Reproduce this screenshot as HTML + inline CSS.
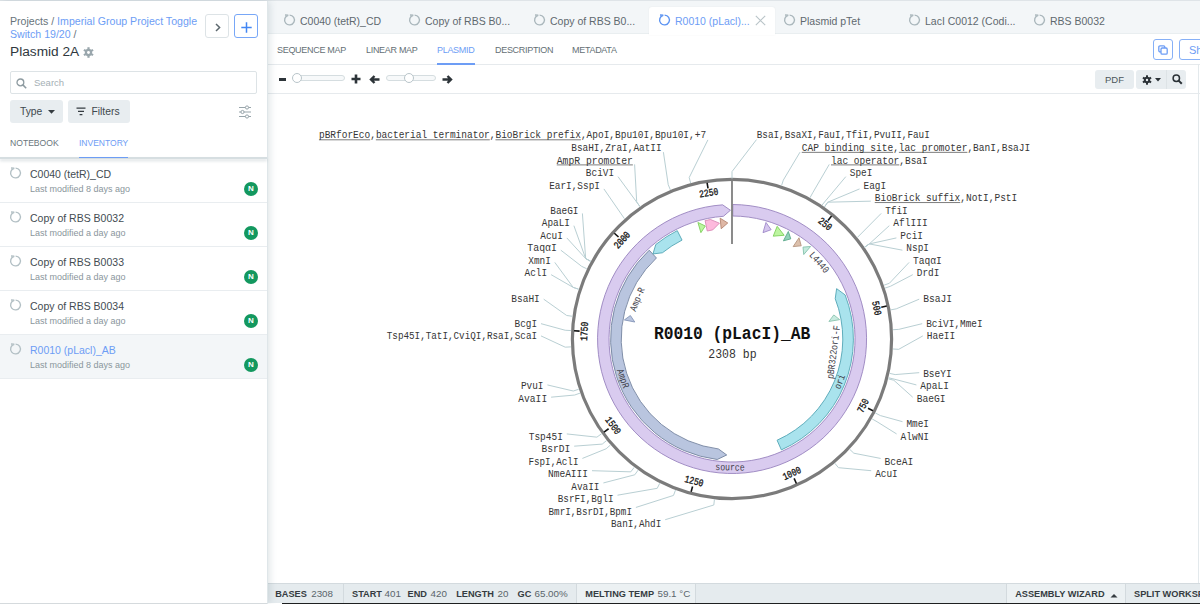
<!DOCTYPE html>
<html><head><meta charset="utf-8">
<style>
*{margin:0;padding:0;box-sizing:border-box}
html,body{width:1200px;height:604px;overflow:hidden;background:#fff;font-family:"Liberation Sans",sans-serif;color:#39434a}
.a{position:absolute;white-space:nowrap}
#topline{position:absolute;left:0;top:0;width:1200px;height:1px;background:#dfe4e8}
#side{position:absolute;left:0;top:1px;width:267px;height:603px;background:#fff;z-index:5;box-shadow:1px 0 0 #dfe6e9,2px 0 8px rgba(70,100,115,.2)}
#main{position:absolute;left:267px;top:1px;width:933px;height:603px;background:#fff}
.tab{position:absolute;top:0;height:32px;width:125px;font-size:10.5px;color:#5c666d}
.ring{position:absolute;width:11px;height:11px;border:1.4px solid #a8b5ba;border-radius:50%}
.ring:after{content:"";position:absolute;left:0px;top:-2px;width:4px;height:4px;background:inherit}
.btn{position:absolute;border-radius:3px}
.st{top:587px;font-size:9.2px;color:#5a656b;line-height:12px}
.st b{color:#353c41}
.sn{font-size:9.8px;top:587.2px}
</style></head><body>
<div id="topline"></div>
<div id="side">
  <div class="a" style="left:10px;top:14px;font-size:10.6px;color:#68737a">Projects /&nbsp;<span style="color:#6d9df5">Imperial Group Project Toggle</span></div>
  <div class="a" style="left:10px;top:27px;font-size:10.6px;color:#6d9df5">Switch 19/20 <span style="color:#68737a">/</span></div>
  <div class="a" style="left:10px;top:43px;font-size:13.7px;color:#2f383e">Plasmid 2A</div>
  <div class="btn" style="left:205px;top:13px;width:24px;height:24px;border:1px solid #dde3e6"></div>
  <div class="btn" style="left:234px;top:13px;width:24px;height:24px;border:1px solid #78a7f7"></div>
  <div class="btn" style="left:10px;top:70px;width:247px;height:23px;border:1px solid #dde3e6;border-radius:2px"></div>
  <div class="a" style="left:34px;top:76px;font-size:9.5px;color:#a5b0b5">Search</div>
  <div class="btn" style="left:10px;top:99px;width:53px;height:23px;background:#e8edf0"></div>
  <div class="a" style="left:20px;top:105px;font-size:10.3px;color:#3e484e">Type</div>
  <div class="btn" style="left:68px;top:99px;width:62px;height:23px;background:#e8edf0"></div>
  <div class="a" style="left:91.5px;top:105px;font-size:10.3px;color:#3e484e">Filters</div>
  <svg class="a" style="left:215px;top:21.5px" width="6" height="9" viewBox="0 0 6 9"><path d="M1 1L4.6 4.5L1 8" fill="none" stroke="#5d686e" stroke-width="1.5"/></svg>
  <svg class="a" style="left:240.5px;top:20.5px" width="11" height="11" viewBox="0 0 11 11"><path d="M5.5 0.3V10.7M0.3 5.5H10.7" stroke="#4286f4" stroke-width="1.5"/></svg>
  <svg class="a" style="left:83px;top:46px" width="11" height="11" viewBox="0 0 10 10"><g fill="#9aa7ad"><circle cx="5" cy="5" r="3.3"/><rect x="4" y="0.2" width="2" height="9.6"/><rect x="4" y="0.2" width="2" height="9.6" transform="rotate(60 5 5)"/><rect x="4" y="0.2" width="2" height="9.6" transform="rotate(120 5 5)"/></g><circle cx="5" cy="5" r="1.3" fill="#fff"/></svg>
  <svg class="a" style="left:16px;top:76.5px" width="11" height="11" viewBox="0 0 11 11"><circle cx="4.4" cy="4.4" r="3.4" fill="none" stroke="#8e9ba1" stroke-width="1.3"/><path d="M6.9 6.9L10.2 10.2" stroke="#8e9ba1" stroke-width="1.5"/></svg>
  <svg class="a" style="left:48px;top:109px" width="7" height="4" viewBox="0 0 7 4"><path d="M0 0H7L3.5 3.8Z" fill="#353c41"/></svg>
  <svg class="a" style="left:76px;top:106px" width="10" height="10" viewBox="0 0 10 10"><path d="M0.5 1.2H9.5M2 4.4H8M3.6 7.6H6.4" stroke="#353c41" stroke-width="1.3"/></svg>
  <svg class="a" style="left:238px;top:104px" width="14" height="14" viewBox="0 0 14 14"><g fill="none" stroke="#98a5ab" stroke-width="1"><path d="M1 2.5H13M1 7H13M1 11.5H13"/><circle cx="9" cy="2.5" r="1.6" fill="#fff"/><circle cx="4.5" cy="7" r="1.6" fill="#fff"/><circle cx="9" cy="11.5" r="1.6" fill="#fff"/></g></svg>
  <div class="a" style="left:10px;top:137px;font-size:8.6px;color:#6a757b">NOTEBOOK</div>
  <div class="a" style="left:79px;top:137px;font-size:8.5px;color:#6d9df5">INVENTORY</div>
  <div class="a" style="left:79px;top:155.7px;width:49px;height:1.6px;background:#6d9df5;z-index:4"></div>
  
  <div class="a" style="left:0;top:158px;width:267px;height:44px;background:#fff;border-bottom:1px solid #e9edf0"></div>
  <svg class="a" style="left:8.5px;top:166px" width="13" height="13" viewBox="0 0 13 13"><path d="M6.6 1.1 A4.9 4.9 0 1 1 5.3 1.25 L2.0 1.0" fill="none" stroke="#b3c0c5" stroke-width="1.35"/></svg>
  <div class="a" style="left:30px;top:166.5px;font-size:10.5px;color:#434c52">C0040 (tetR)_CD</div>
  <div class="a" style="left:30px;top:183px;font-size:9px;color:#8a969c">Last modified 8 days ago</div>
  <div class="a" style="left:244px;top:181px;width:14px;height:14px;border-radius:50%;background:#13985f;color:#fff;font-size:8px;font-weight:bold;text-align:center;line-height:14px">N</div>
  <div class="a" style="left:0;top:202px;width:267px;height:44px;background:#fff;border-bottom:1px solid #e9edf0"></div>
  <svg class="a" style="left:8.5px;top:210px" width="13" height="13" viewBox="0 0 13 13"><path d="M6.6 1.1 A4.9 4.9 0 1 1 5.3 1.25 L2.0 1.0" fill="none" stroke="#b3c0c5" stroke-width="1.35"/></svg>
  <div class="a" style="left:30px;top:210.5px;font-size:10.5px;color:#434c52">Copy of RBS B0032</div>
  <div class="a" style="left:30px;top:227px;font-size:9px;color:#8a969c">Last modified a day ago</div>
  <div class="a" style="left:244px;top:225px;width:14px;height:14px;border-radius:50%;background:#13985f;color:#fff;font-size:8px;font-weight:bold;text-align:center;line-height:14px">N</div>
  <div class="a" style="left:0;top:246px;width:267px;height:44px;background:#fff;border-bottom:1px solid #e9edf0"></div>
  <svg class="a" style="left:8.5px;top:254px" width="13" height="13" viewBox="0 0 13 13"><path d="M6.6 1.1 A4.9 4.9 0 1 1 5.3 1.25 L2.0 1.0" fill="none" stroke="#b3c0c5" stroke-width="1.35"/></svg>
  <div class="a" style="left:30px;top:254.5px;font-size:10.5px;color:#434c52">Copy of RBS B0033</div>
  <div class="a" style="left:30px;top:271px;font-size:9px;color:#8a969c">Last modified a day ago</div>
  <div class="a" style="left:244px;top:269px;width:14px;height:14px;border-radius:50%;background:#13985f;color:#fff;font-size:8px;font-weight:bold;text-align:center;line-height:14px">N</div>
  <div class="a" style="left:0;top:290px;width:267px;height:44px;background:#fff;border-bottom:1px solid #e9edf0"></div>
  <svg class="a" style="left:8.5px;top:298px" width="13" height="13" viewBox="0 0 13 13"><path d="M6.6 1.1 A4.9 4.9 0 1 1 5.3 1.25 L2.0 1.0" fill="none" stroke="#b3c0c5" stroke-width="1.35"/></svg>
  <div class="a" style="left:30px;top:298.5px;font-size:10.5px;color:#434c52">Copy of RBS B0034</div>
  <div class="a" style="left:30px;top:315px;font-size:9px;color:#8a969c">Last modified a day ago</div>
  <div class="a" style="left:244px;top:313px;width:14px;height:14px;border-radius:50%;background:#13985f;color:#fff;font-size:8px;font-weight:bold;text-align:center;line-height:14px">N</div>
  <div class="a" style="left:0;top:334px;width:267px;height:44px;background:#f3f6f8;border-bottom:1px solid #e9edf0"></div>
  <svg class="a" style="left:8.5px;top:342px" width="13" height="13" viewBox="0 0 13 13"><path d="M6.6 1.1 A4.9 4.9 0 1 1 5.3 1.25 L2.0 1.0" fill="none" stroke="#b3c0c5" stroke-width="1.35"/></svg>
  <div class="a" style="left:30px;top:342.5px;font-size:10.5px;color:#6d9df5">R0010 (pLacl)_AB</div>
  <div class="a" style="left:30px;top:359px;font-size:9px;color:#8a969c">Last modified 8 days ago</div>
  <div class="a" style="left:244px;top:357px;width:14px;height:14px;border-radius:50%;background:#13985f;color:#fff;font-size:8px;font-weight:bold;text-align:center;line-height:14px">N</div>
  <div class="a" style="left:0;top:156px;width:267px;height:1.5px;background:#d6dee1;box-shadow:0 2px 3px rgba(60,90,105,.2);z-index:3"></div>
</div>
<div class="a" style="left:0;top:603px;width:267px;height:1px;background:#d5dadd;z-index:6"></div>
<div id="main">
  <div class="a" style="left:0;top:0;width:933px;height:32.5px;background:#f3f6f8;border-bottom:1px solid #e9eef0"></div>
  <div class="a" style="left:0;top:63px;width:933px;height:1px;background:#e6eaed"></div>
  <svg class="a" style="left:15.5px;top:13px" width="13" height="13" viewBox="0 0 13 13"><path d="M6.6 1.1 A4.9 4.9 0 1 1 5.3 1.25 L2.0 1.0" fill="none" stroke="#aab7bc" stroke-width="1.35"/></svg>
  <div class="a" style="left:33px;top:14px;font-size:10.5px;color:#5f696f">C0040 (tetR)_CD</div>
  <svg class="a" style="left:140.5px;top:13px" width="13" height="13" viewBox="0 0 13 13"><path d="M6.6 1.1 A4.9 4.9 0 1 1 5.3 1.25 L2.0 1.0" fill="none" stroke="#aab7bc" stroke-width="1.35"/></svg>
  <div class="a" style="left:158px;top:14px;font-size:10.5px;color:#5f696f">Copy of RBS B0...</div>
  <svg class="a" style="left:265.5px;top:13px" width="13" height="13" viewBox="0 0 13 13"><path d="M6.6 1.1 A4.9 4.9 0 1 1 5.3 1.25 L2.0 1.0" fill="none" stroke="#aab7bc" stroke-width="1.35"/></svg>
  <div class="a" style="left:283px;top:14px;font-size:10.5px;color:#5f696f">Copy of RBS B0...</div>
  <div class="a" style="left:382px;top:6px;width:126px;height:28px;background:#fff;border-radius:3px 3px 0 0;box-shadow:0 0 2px rgba(0,0,0,.06)"></div>
  <svg class="a" style="left:488px;top:14px" width="11" height="11" viewBox="0 0 11 11"><path d="M0.8 0.8 L10.2 10.2 M10.2 0.8 L0.8 10.2" stroke="#b9c4c8" stroke-width="1.1"/></svg>
  <svg class="a" style="left:390.5px;top:13px" width="13" height="13" viewBox="0 0 13 13"><path d="M6.6 1.1 A4.9 4.9 0 1 1 5.3 1.25 L2.0 1.0" fill="none" stroke="#5b93f2" stroke-width="1.35"/></svg>
  <div class="a" style="left:408px;top:14px;font-size:10.5px;color:#6d9df5">R0010 (pLacl)...</div>
  <svg class="a" style="left:515.5px;top:13px" width="13" height="13" viewBox="0 0 13 13"><path d="M6.6 1.1 A4.9 4.9 0 1 1 5.3 1.25 L2.0 1.0" fill="none" stroke="#aab7bc" stroke-width="1.35"/></svg>
  <div class="a" style="left:533px;top:14px;font-size:10.5px;color:#5f696f">Plasmid pTet</div>
  <svg class="a" style="left:640.5px;top:13px" width="13" height="13" viewBox="0 0 13 13"><path d="M6.6 1.1 A4.9 4.9 0 1 1 5.3 1.25 L2.0 1.0" fill="none" stroke="#aab7bc" stroke-width="1.35"/></svg>
  <div class="a" style="left:658px;top:14px;font-size:10.5px;color:#5f696f">LacI C0012 (Codi...</div>
  <svg class="a" style="left:765.5px;top:13px" width="13" height="13" viewBox="0 0 13 13"><path d="M6.6 1.1 A4.9 4.9 0 1 1 5.3 1.25 L2.0 1.0" fill="none" stroke="#aab7bc" stroke-width="1.35"/></svg>
  <div class="a" style="left:783px;top:14px;font-size:10.5px;color:#5f696f">RBS B0032</div>
  <div class="a" style="left:10px;top:44px;font-size:9px;letter-spacing:-0.3px;color:#646f75">SEQUENCE MAP</div>
  <div class="a" style="left:99px;top:44px;font-size:9px;letter-spacing:-0.3px;color:#646f75">LINEAR MAP</div>
  <div class="a" style="left:170px;top:44px;font-size:9px;letter-spacing:-0.3px;color:#6d9df5">PLASMID</div>
  <div class="a" style="left:228px;top:44px;font-size:9px;letter-spacing:-0.3px;color:#646f75">DESCRIPTION</div>
  <div class="a" style="left:305px;top:44px;font-size:9px;letter-spacing:-0.3px;color:#646f75">METADATA</div>
  <div class="a" style="left:170px;top:62px;width:38px;height:1.5px;background:#6d9df5"></div>
  <div class="a" style="left:11.5px;top:77px;width:7.5px;height:2.6px;background:#2d3439"></div>
  <div class="a" style="left:25.5px;top:73.5px;width:52px;height:6px;border:1px solid #d5dde0;border-radius:3px;background:#f7f9fa"></div>
  <div class="a" style="left:25px;top:72px;width:10px;height:10px;border:1px solid #b9c5ca;border-radius:50%;background:#fff"></div>
  <svg class="a" style="left:83.5px;top:73px" width="10" height="10" viewBox="0 0 10 10"><path d="M5 0.5V9.5M0.5 5H9.5" stroke="#2d3439" stroke-width="2.6"/></svg>
  <svg class="a" style="left:102px;top:73.5px" width="11" height="9" viewBox="0 0 11 9"><path d="M10.5 4.5H2M5.5 1L2 4.5L5.5 8" fill="none" stroke="#2d3439" stroke-width="2.4"/></svg>
  <div class="a" style="left:118.5px;top:73.5px;width:50px;height:6px;border:1px solid #d5dde0;border-radius:3px;background:#f7f9fa"></div>
  <div class="a" style="left:137px;top:72px;width:10px;height:10px;border:1px solid #b9c5ca;border-radius:50%;background:#fff"></div>
  <svg class="a" style="left:175px;top:73.5px" width="11" height="9" viewBox="0 0 11 9"><path d="M0.5 4.5H9M5.5 1L9 4.5L5.5 8" fill="none" stroke="#2d3439" stroke-width="2.4"/></svg>
  <div class="btn" style="left:827.5px;top:69px;width:39.5px;height:19px;background:#e8edf0"></div>
  <div class="a" style="left:838px;top:73px;font-size:9.5px;color:#4b555b">PDF</div>
  <div class="btn" style="left:869px;top:69px;width:50px;height:19px;background:#e8edf0"></div>
  <div class="a" style="left:899px;top:69px;width:1px;height:19px;background:#dde3e6"></div>
  <svg class="a" style="left:875px;top:73.5px" width="10" height="10" viewBox="0 0 10 10"><g fill="#2a3136"><circle cx="5" cy="5" r="3.2"/><rect x="4" y="0.3" width="2" height="9.4"/><rect x="4" y="0.3" width="2" height="9.4" transform="rotate(60 5 5)"/><rect x="4" y="0.3" width="2" height="9.4" transform="rotate(120 5 5)"/></g><circle cx="5" cy="5" r="1.2" fill="#e8edf0"/></svg>
  <svg class="a" style="left:888px;top:77px" width="6" height="4" viewBox="0 0 6 4"><path d="M0 0H6L3 3.5Z" fill="#2a3136"/></svg>
  <svg class="a" style="left:904.5px;top:73px" width="11" height="11" viewBox="0 0 11 11"><circle cx="4.3" cy="4.3" r="3.2" fill="none" stroke="#2a3136" stroke-width="1.5"/><path d="M6.6 6.6L9.8 9.8" stroke="#2a3136" stroke-width="2"/></svg>
  <div class="btn" style="left:886px;top:38px;width:20px;height:21px;border:1px solid #86b0f7"></div>
  <svg class="a" style="left:891px;top:44px" width="10" height="10" viewBox="0 0 10 10"><rect x="0.8" y="0.8" width="6" height="6" rx="1.2" fill="none" stroke="#6d9df5" stroke-width="1.3"/><rect x="3" y="3" width="6.2" height="6.2" rx="1.2" fill="#fff" stroke="#6d9df5" stroke-width="1.3"/></svg>
  <div class="btn" style="left:911.5px;top:38px;width:40px;height:21px;border:1px solid #86b0f7"></div>
  <div class="a" style="left:922px;top:42.5px;font-size:11px;color:#6d9df5">Sh</div>
  <div class="a" style="left:930.5px;top:63px;width:1px;height:520px;background:#e3e9ec"></div>

  <div class="a" style="left:0;top:92px;width:933px;height:1px;background:#e6eaed"></div>
  <div class="a" style="left:0;top:582px;width:933px;height:1px;background:#d3dade"></div>
  <div class="a" style="left:0;top:583px;width:933px;height:19px;background:#e5ebee"></div>
  <div class="a" style="left:309px;top:583px;width:119px;height:19px;background:#ecf1f3"></div>
  <div class="a" style="left:76px;top:583px;width:1px;height:19px;background:#d3dade"></div>
  <div class="a" style="left:309px;top:583px;width:1px;height:19px;background:#d3dade"></div>
  <div class="a" style="left:428px;top:583px;width:1px;height:19px;background:#d3dade"></div>
  <div class="a" style="left:739px;top:583px;width:1px;height:19px;background:#d3dade"></div>
  <div class="a" style="left:740px;top:583px;width:118px;height:19px;background:#ecf1f3"></div>
  <div class="a" style="left:858px;top:583px;width:1px;height:19px;background:#d3dade"></div>
  <div class="a" style="left:15px;top:602px;width:918px;height:2px;background:#1d1f20"></div>
  <div class="a" style="left:0;top:603px;width:15px;height:1px;background:#d5dadd"></div>
  <div class="a st" style="left:8.2px"><b>BASES</b></div>
  <div class="a st sn" style="left:44.2px">2308</div>
  <div class="a st" style="left:85px"><b>START</b></div>
  <div class="a st sn" style="left:117.5px">401</div>
  <div class="a st" style="left:140.5px"><b>END</b></div>
  <div class="a st sn" style="left:163.5px">420</div>
  <div class="a st" style="left:189.2px"><b>LENGTH</b></div>
  <div class="a st sn" style="left:230.5px">20</div>
  <div class="a st" style="left:250.5px"><b>GC</b></div>
  <div class="a st sn" style="left:267.5px">65.00%</div>
  <div class="a st" style="left:318.3px"><b>MELTING TEMP</b></div>
  <div class="a st sn" style="left:390.5px">59.1 °C</div>
  <div class="a st" style="left:748.2px"><b>ASSEMBLY WIZARD</b></div>
  <svg class="a" style="left:843px;top:592px" width="8" height="5" viewBox="0 0 8 5"><path d="M0.5 4.5H7.5L4 1Z" fill="#353c41"/></svg>
  <div class="a st" style="left:867px"><b>SPLIT WORKSPACE</b></div>
</div>
<svg class="a" style="left:0;top:0;z-index:2" width="1200" height="604" viewBox="0 0 1200 604">
<style>
.rl{font-family:"Liberation Mono",monospace;font-size:9.4px;fill:#363636}
.tk{font-family:"Liberation Mono",monospace;font-size:8px;font-weight:normal;fill:#111;stroke:#111;stroke-width:0.25px;text-anchor:middle;dominant-baseline:central}
.fl{font-family:"Liberation Mono",monospace;font-size:8.2px;fill:#3d3d48;text-anchor:middle;dominant-baseline:central}
.ttl{font-family:"Liberation Mono",monospace;font-size:16.3px;font-weight:bold;fill:#111;text-anchor:middle}
.bp{font-family:"Liberation Mono",monospace;font-size:11.5px;fill:#333;text-anchor:middle}
</style>
<circle cx="732.0" cy="339.0" r="159.6" fill="none" stroke="#7b7b7b" stroke-width="3.2"/>
<path d="M732.82 204.50 A134.5 134.5 0 1 1 722.62 204.83 L730.43 210.26 L723.42 216.30 A123.0 123.0 0 1 0 732.75 216.00 Z" fill="#d9cbef" stroke="#9883be" stroke-width="0.9" stroke-linejoin="miter"/>
<path d="M726.73 454.98 L717.21 459.50 A121.4 121.4 0 0 1 649.21 250.21 L656.43 257.97 A110.8 110.8 0 0 0 718.50 448.97 Z" fill="#b9c5df" stroke="#74839f" stroke-width="0.9" stroke-linejoin="miter"/>
<path d="M652.97 253.95 L655.77 244.52 A121.4 121.4 0 0 1 677.26 230.64 L682.04 240.10 A110.8 110.8 0 0 0 662.42 252.77 Z" fill="#a9e3ed" stroke="#52a5b4" stroke-width="0.9" stroke-linejoin="miter"/>
<path d="M836.62 288.65 L845.11 294.90 A121.4 121.4 0 0 1 781.38 449.90 L777.07 440.22 A110.8 110.8 0 0 0 835.23 298.75 Z" fill="#a9e3ed" stroke="#52a5b4" stroke-width="0.9" stroke-linejoin="miter"/>
<polygon points="697.93,222.48 705.29,226.01 700.90,232.65" fill="#bdf5a0" stroke="#7fcf5c" stroke-width="0.9"/>
<polygon points="720.15,218.18 727.75,222.98 721.19,228.73" fill="#dfb8a6" stroke="#b58672" stroke-width="0.9"/>
<polygon points="765.97,222.45 771.14,229.70 763.01,232.63" fill="#d5c6ee" stroke="#9f89c8" stroke-width="0.9"/>
<polygon points="777.18,226.32 784.17,235.28 773.24,236.16" fill="#bdf5a0" stroke="#7fcf5c" stroke-width="0.9"/>
<polygon points="788.34,231.46 790.75,238.86 783.42,240.85" fill="#93d3b9" stroke="#5aa88a" stroke-width="0.9"/>
<polygon points="799.01,237.77 801.22,245.79 793.15,246.61" fill="#dcc0ac" stroke="#b59580" stroke-width="0.9"/>
<polygon points="810.60,246.48 803.00,247.14 803.74,254.56" fill="#c5eadd" stroke="#85c2ad" stroke-width="0.9"/>
<polygon points="705.10,220.62 710.50,219.52 719.42,223.18 712.76,229.88 707.26,231.00" fill="#fdb9dd" stroke="#d98ab5" stroke-width="0.9"/>
<polygon points="624.38,319.93 630.37,315.54 634.77,322.03" fill="#b9c5df" stroke="#8595b8" stroke-width="0.9"/>
<polygon points="828.93,321.47 833.79,314.94 839.67,319.63" fill="#c8ebe0" stroke="#8cc4b0" stroke-width="0.9"/>
<line x1="732.0" y1="178.5" x2="732.0" y2="244" stroke="#7f7f7f" stroke-width="1.8"/>
<line x1="732.0" y1="171.6" x2="732.0" y2="178.5" stroke="#b9cfd3" stroke-width="1"/>
<line x1="831.55" y1="216.05" x2="828.02" y2="220.40" stroke="#111" stroke-width="1.6"/>
<text transform="translate(824.81 224.36) rotate(38.99) scale(1 1.28)" x="0" y="0" class="tk">250</text>
<line x1="886.74" y1="306.08" x2="881.26" y2="307.25" stroke="#111" stroke-width="1.6"/>
<text transform="translate(876.27 308.31) rotate(77.99) scale(1 1.28)" x="0" y="0" class="tk">500</text>
<line x1="872.98" y1="410.78" x2="867.99" y2="408.24" stroke="#111" stroke-width="1.6"/>
<text transform="translate(863.44 405.93) rotate(-63.02) scale(1 1.28)" x="0" y="0" class="tk">750</text>
<line x1="796.40" y1="483.50" x2="794.12" y2="478.38" stroke="#111" stroke-width="1.6"/>
<text transform="translate(792.04 473.73) rotate(-24.02) scale(1 1.28)" x="0" y="0" class="tk">1000</text>
<line x1="691.12" y1="491.83" x2="692.57" y2="486.42" stroke="#111" stroke-width="1.6"/>
<text transform="translate(693.89 481.49) rotate(14.97) scale(1 1.28)" x="0" y="0" class="tk">1250</text>
<line x1="604.06" y1="432.06" x2="608.59" y2="428.76" stroke="#111" stroke-width="1.6"/>
<text transform="translate(612.72 425.76) rotate(53.97) scale(1 1.28)" x="0" y="0" class="tk">1500</text>
<line x1="574.01" y1="330.82" x2="579.60" y2="331.11" stroke="#111" stroke-width="1.6"/>
<text transform="translate(584.70 331.37) rotate(272.96) scale(1 1.28)" x="0" y="0" class="tk">1750</text>
<line x1="614.36" y1="233.23" x2="618.52" y2="236.97" stroke="#111" stroke-width="1.6"/>
<text transform="translate(622.31 240.38) rotate(311.96) scale(1 1.28)" x="0" y="0" class="tk">2000</text>
<line x1="707.12" y1="182.77" x2="708.01" y2="188.30" stroke="#111" stroke-width="1.6"/>
<text transform="translate(708.81 193.33) rotate(350.95) scale(1 1.28)" x="0" y="0" class="tk">2250</text>
<text transform="translate(729.98 467.58) rotate(0.90) scale(1 1.22)" x="0" y="0" class="fl">source</text>
<text transform="translate(622.64 378.59) rotate(70.10) scale(1 1.22)" x="0" y="0" class="fl">AmpR</text>
<text transform="translate(840.13 381.81) rotate(-68.40) scale(1 1.22)" x="0" y="0" class="fl">ori</text>
<text transform="translate(637.62 299.52) rotate(292.70) scale(1 1.22)" x="0" y="0" class="fl">Amp-R</text>
<text transform="translate(833.94 352.24) rotate(-82.60) scale(1 1.22)" x="0" y="0" class="fl">pBR322ori-F</text>
<text transform="translate(818.92 262.64) rotate(48.70) scale(1 1.22)" x="0" y="0" class="fl">L4440</text>
<line x1="318.95" y1="139.80" x2="370.20" y2="139.80" stroke="#7d7d7d" stroke-width="1"/>
<line x1="375.89" y1="139.80" x2="489.77" y2="139.80" stroke="#7d7d7d" stroke-width="1"/>
<line x1="495.47" y1="139.80" x2="580.88" y2="139.80" stroke="#7d7d7d" stroke-width="1"/>
<text transform="translate(318.95 138.40) scale(1 1.2)" x="0" y="0" class="rl" textLength="387.20" lengthAdjust="spacingAndGlyphs">pBRforEco,bacterial terminator,BioBrick prefix,ApoI,Bpu10I,Bpu10I,+7</text>
<polyline points="707.90,139.90 689.20,177.58 690.66,183.09" fill="none" stroke="#b9cfd3" stroke-width="1"/>
<text transform="translate(571.25 150.95) scale(1 1.2)" x="0" y="0" class="rl" textLength="90.40" lengthAdjust="spacingAndGlyphs">BsaHI,ZraI,AatII</text>
<polyline points="663.40,152.15 668.23,184.66 670.40,189.92" fill="none" stroke="#b9cfd3" stroke-width="1"/>
<line x1="556.75" y1="164.90" x2="632.85" y2="164.90" stroke="#7d7d7d" stroke-width="1"/>
<text transform="translate(556.75 163.50) scale(1 1.2)" x="0" y="0" class="rl" textLength="76.10" lengthAdjust="spacingAndGlyphs">AmpR promoter</text>
<polyline points="634.60,164.40 636.69,201.87 639.94,206.55" fill="none" stroke="#b9cfd3" stroke-width="1"/>
<text transform="translate(585.85 176.05) scale(1 1.2)" x="0" y="0" class="rl" textLength="28.20" lengthAdjust="spacingAndGlyphs">BciVI</text>
<polyline points="618.00,176.65 639.94,206.55" fill="none" stroke="#b9cfd3" stroke-width="1"/>
<text transform="translate(549.15 188.60) scale(1 1.2)" x="0" y="0" class="rl" textLength="50.80" lengthAdjust="spacingAndGlyphs">EarI,SspI</text>
<polyline points="603.90,188.91 624.49,218.75" fill="none" stroke="#b9cfd3" stroke-width="1"/>
<text transform="translate(550.25 213.70) scale(1 1.2)" x="0" y="0" class="rl" textLength="28.20" lengthAdjust="spacingAndGlyphs">BaeGI</text>
<polyline points="582.40,213.41 585.66,258.55 590.65,261.29" fill="none" stroke="#b9cfd3" stroke-width="1"/>
<text transform="translate(541.75 226.25) scale(1 1.2)" x="0" y="0" class="rl" textLength="28.20" lengthAdjust="spacingAndGlyphs">ApaLI</text>
<polyline points="573.90,225.66 585.66,258.55 590.65,261.29" fill="none" stroke="#b9cfd3" stroke-width="1"/>
<text transform="translate(540.29 238.80) scale(1 1.2)" x="0" y="0" class="rl" textLength="22.56" lengthAdjust="spacingAndGlyphs">AcuI</text>
<polyline points="566.80,237.91 585.66,258.55 590.65,261.29" fill="none" stroke="#b9cfd3" stroke-width="1"/>
<text transform="translate(527.35 251.35) scale(1 1.2)" x="0" y="0" class="rl" textLength="29.50" lengthAdjust="spacingAndGlyphs">Taq&#945;I</text>
<polyline points="560.80,250.16 581.65,266.32 586.78,268.80" fill="none" stroke="#b9cfd3" stroke-width="1"/>
<text transform="translate(528.29 263.90) scale(1 1.2)" x="0" y="0" class="rl" textLength="22.56" lengthAdjust="spacingAndGlyphs">XmnI</text>
<polyline points="554.80,262.41 573.17,287.39 578.59,289.16" fill="none" stroke="#b9cfd3" stroke-width="1"/>
<text transform="translate(524.59 276.45) scale(1 1.2)" x="0" y="0" class="rl" textLength="22.56" lengthAdjust="spacingAndGlyphs">AclI</text>
<polyline points="551.10,274.66 573.17,287.39 578.59,289.16" fill="none" stroke="#b9cfd3" stroke-width="1"/>
<text transform="translate(511.35 301.55) scale(1 1.2)" x="0" y="0" class="rl" textLength="28.40" lengthAdjust="spacingAndGlyphs">BsaHI</text>
<polyline points="543.70,299.17 566.67,315.47 572.31,316.27" fill="none" stroke="#b9cfd3" stroke-width="1"/>
<text transform="translate(514.49 326.65) scale(1 1.2)" x="0" y="0" class="rl" textLength="22.56" lengthAdjust="spacingAndGlyphs">BcgI</text>
<polyline points="541.00,323.67 565.23,330.26 570.92,330.56" fill="none" stroke="#b9cfd3" stroke-width="1"/>
<text transform="translate(386.75 339.20) scale(1 1.2)" x="0" y="0" class="rl" textLength="150.30" lengthAdjust="spacingAndGlyphs">Tsp45I,TatI,CviQI,RsaI,ScaI</text>
<polyline points="541.00,335.92 565.20,347.16 570.89,346.88" fill="none" stroke="#b9cfd3" stroke-width="1"/>
<text transform="translate(520.89 389.40) scale(1 1.2)" x="0" y="0" class="rl" textLength="22.56" lengthAdjust="spacingAndGlyphs">PvuI</text>
<polyline points="547.40,384.93 573.31,391.02 578.73,389.25" fill="none" stroke="#b9cfd3" stroke-width="1"/>
<text transform="translate(518.35 401.95) scale(1 1.2)" x="0" y="0" class="rl" textLength="28.80" lengthAdjust="spacingAndGlyphs">AvaII</text>
<polyline points="551.10,397.18 574.68,395.02 580.05,393.11" fill="none" stroke="#b9cfd3" stroke-width="1"/>
<text transform="translate(528.75 439.60) scale(1 1.2)" x="0" y="0" class="rl" textLength="34.10" lengthAdjust="spacingAndGlyphs">Tsp45I</text>
<polyline points="566.80,433.93 596.89,437.16 601.51,433.81" fill="none" stroke="#b9cfd3" stroke-width="1"/>
<text transform="translate(541.45 452.15) scale(1 1.2)" x="0" y="0" class="rl" textLength="28.80" lengthAdjust="spacingAndGlyphs">BsrDI</text>
<polyline points="574.20,446.18 602.22,444.10 606.65,440.51" fill="none" stroke="#b9cfd3" stroke-width="1"/>
<text transform="translate(528.45 464.70) scale(1 1.2)" x="0" y="0" class="rl" textLength="50.00" lengthAdjust="spacingAndGlyphs">FspI,AclI</text>
<polyline points="582.40,458.43 606.15,448.78 610.45,445.03" fill="none" stroke="#b9cfd3" stroke-width="1"/>
<text transform="translate(547.95 477.25) scale(1 1.2)" x="0" y="0" class="rl" textLength="40.10" lengthAdjust="spacingAndGlyphs">NmeAIII</text>
<polyline points="592.00,470.69 630.80,471.84 634.25,467.31" fill="none" stroke="#b9cfd3" stroke-width="1"/>
<text transform="translate(571.25 489.80) scale(1 1.2)" x="0" y="0" class="rl" textLength="28.20" lengthAdjust="spacingAndGlyphs">AvaII</text>
<polyline points="603.40,482.94 634.79,474.79 638.10,470.15" fill="none" stroke="#b9cfd3" stroke-width="1"/>
<text transform="translate(557.75 502.35) scale(1 1.2)" x="0" y="0" class="rl" textLength="55.80" lengthAdjust="spacingAndGlyphs">BsrFI,BglI</text>
<polyline points="617.50,495.19 657.22,488.32 659.78,483.23" fill="none" stroke="#b9cfd3" stroke-width="1"/>
<text transform="translate(548.55 514.90) scale(1 1.2)" x="0" y="0" class="rl" textLength="83.40" lengthAdjust="spacingAndGlyphs">BmrI,BsrDI,BpmI</text>
<polyline points="635.90,507.44 673.52,495.42 675.51,490.09" fill="none" stroke="#b9cfd3" stroke-width="1"/>
<text transform="translate(610.95 527.45) scale(1 1.2)" x="0" y="0" class="rl" textLength="50.30" lengthAdjust="spacingAndGlyphs">BanI,AhdI</text>
<polyline points="665.20,519.69 713.82,505.01 714.44,499.34" fill="none" stroke="#b9cfd3" stroke-width="1"/>
<text transform="translate(756.75 138.40) scale(1 1.2)" x="0" y="0" class="rl" textLength="173" lengthAdjust="spacingAndGlyphs">BsaI,BsaXI,FauI,TfiI,PvuII,FauI</text>
<polyline points="756.50,139.60 732,171.6" fill="none" stroke="#b9cfd3" stroke-width="1"/>
<line x1="801.75" y1="152.35" x2="893.15" y2="152.35" stroke="#7d7d7d" stroke-width="1"/>
<line x1="898.86" y1="152.35" x2="967.41" y2="152.35" stroke="#7d7d7d" stroke-width="1"/>
<text transform="translate(801.75 150.95) scale(1 1.2)" x="0" y="0" class="rl" textLength="228.50" lengthAdjust="spacingAndGlyphs">CAP binding site,lac promoter,BanI,BsaJI</text>
<polyline points="800.00,152.15 783.33,180.08 781.58,185.51" fill="none" stroke="#b9cfd3" stroke-width="1"/>
<line x1="831.00" y1="164.90" x2="899.29" y2="164.90" stroke="#7d7d7d" stroke-width="1"/>
<text transform="translate(831.00 163.50) scale(1 1.2)" x="0" y="0" class="rl" textLength="96.75" lengthAdjust="spacingAndGlyphs">lac operator,BsaI</text>
<polyline points="829.25,164.40 812.71,192.80 809.95,197.79" fill="none" stroke="#b9cfd3" stroke-width="1"/>
<text transform="translate(849.75 176.05) scale(1 1.2)" x="0" y="0" class="rl" textLength="22.56" lengthAdjust="spacingAndGlyphs">SpeI</text>
<polyline points="845.80,176.65 821.96,205.12" fill="none" stroke="#b9cfd3" stroke-width="1"/>
<text transform="translate(863.50 188.60) scale(1 1.2)" x="0" y="0" class="rl" textLength="22.56" lengthAdjust="spacingAndGlyphs">EagI</text>
<polyline points="859.55,188.91 827.79,202.20 824.52,206.87" fill="none" stroke="#b9cfd3" stroke-width="1"/>
<line x1="874.75" y1="202.55" x2="960.25" y2="202.55" stroke="#7d7d7d" stroke-width="1"/>
<text transform="translate(874.75 201.15) scale(1 1.2)" x="0" y="0" class="rl" textLength="142.50" lengthAdjust="spacingAndGlyphs">BioBrick suffix,NotI,PstI</text>
<polyline points="870.80,201.16 827.79,202.20 824.52,206.87" fill="none" stroke="#b9cfd3" stroke-width="1"/>
<text transform="translate(885.15 213.70) scale(1 1.2)" x="0" y="0" class="rl" textLength="22.56" lengthAdjust="spacingAndGlyphs">TfiI</text>
<polyline points="881.20,213.41 857.35,237.49" fill="none" stroke="#b9cfd3" stroke-width="1"/>
<text transform="translate(893.25 226.25) scale(1 1.2)" x="0" y="0" class="rl" textLength="34.40" lengthAdjust="spacingAndGlyphs">AflIII</text>
<polyline points="889.30,225.66 869.30,243.93 864.61,247.18" fill="none" stroke="#b9cfd3" stroke-width="1"/>
<text transform="translate(900.35 238.80) scale(1 1.2)" x="0" y="0" class="rl" textLength="22.56" lengthAdjust="spacingAndGlyphs">PciI</text>
<polyline points="896.40,237.91 869.30,243.93 864.61,247.18" fill="none" stroke="#b9cfd3" stroke-width="1"/>
<text transform="translate(906.35 251.35) scale(1 1.2)" x="0" y="0" class="rl" textLength="22.56" lengthAdjust="spacingAndGlyphs">NspI</text>
<polyline points="902.40,250.16 869.30,243.93 864.61,247.18" fill="none" stroke="#b9cfd3" stroke-width="1"/>
<text transform="translate(913.05 263.90) scale(1 1.2)" x="0" y="0" class="rl" textLength="28.80" lengthAdjust="spacingAndGlyphs">Taq&#945;I</text>
<polyline points="909.10,262.41 889.42,283.25 884.05,285.16" fill="none" stroke="#b9cfd3" stroke-width="1"/>
<text transform="translate(916.75 276.45) scale(1 1.2)" x="0" y="0" class="rl" textLength="22.56" lengthAdjust="spacingAndGlyphs">DrdI</text>
<polyline points="912.80,274.66 890.46,286.29 885.05,288.09" fill="none" stroke="#b9cfd3" stroke-width="1"/>
<text transform="translate(923.15 301.55) scale(1 1.2)" x="0" y="0" class="rl" textLength="28.90" lengthAdjust="spacingAndGlyphs">BsaJI</text>
<polyline points="919.20,299.17 896.26,308.85 890.65,309.88" fill="none" stroke="#b9cfd3" stroke-width="1"/>
<text transform="translate(926.15 326.65) scale(1 1.2)" x="0" y="0" class="rl" textLength="56.50" lengthAdjust="spacingAndGlyphs">BciVI,MmeI</text>
<polyline points="922.20,323.67 898.72,329.39 893.03,329.71" fill="none" stroke="#b9cfd3" stroke-width="1"/>
<text transform="translate(926.75 339.20) scale(1 1.2)" x="0" y="0" class="rl" textLength="28.50" lengthAdjust="spacingAndGlyphs">HaeII</text>
<polyline points="922.80,335.92 898.68,349.34 892.99,348.99" fill="none" stroke="#b9cfd3" stroke-width="1"/>
<text transform="translate(923.15 376.85) scale(1 1.2)" x="0" y="0" class="rl" textLength="28.50" lengthAdjust="spacingAndGlyphs">BseYI</text>
<polyline points="919.20,372.67 895.17,374.58 889.60,373.36" fill="none" stroke="#b9cfd3" stroke-width="1"/>
<text transform="translate(920.35 389.40) scale(1 1.2)" x="0" y="0" class="rl" textLength="28.50" lengthAdjust="spacingAndGlyphs">ApaLI</text>
<polyline points="916.40,384.93 894.11,379.12 888.58,377.75" fill="none" stroke="#b9cfd3" stroke-width="1"/>
<text transform="translate(916.65 401.95) scale(1 1.2)" x="0" y="0" class="rl" textLength="28.90" lengthAdjust="spacingAndGlyphs">BaeGI</text>
<polyline points="912.70,397.18 893.83,380.25 888.30,378.84" fill="none" stroke="#b9cfd3" stroke-width="1"/>
<text transform="translate(906.45 427.05) scale(1 1.2)" x="0" y="0" class="rl" textLength="22.56" lengthAdjust="spacingAndGlyphs">MmeI</text>
<polyline points="902.50,421.68 880.40,415.59 875.33,412.98" fill="none" stroke="#b9cfd3" stroke-width="1"/>
<text transform="translate(900.55 439.60) scale(1 1.2)" x="0" y="0" class="rl" textLength="28.50" lengthAdjust="spacingAndGlyphs">AlwNI</text>
<polyline points="896.60,433.93 877.06,421.74 872.11,418.92" fill="none" stroke="#b9cfd3" stroke-width="1"/>
<text transform="translate(884.55 464.70) scale(1 1.2)" x="0" y="0" class="rl" textLength="28.80" lengthAdjust="spacingAndGlyphs">BceAI</text>
<polyline points="880.60,458.43 853.84,453.21 849.68,449.31" fill="none" stroke="#b9cfd3" stroke-width="1"/>
<text transform="translate(875.15 477.25) scale(1 1.2)" x="0" y="0" class="rl" textLength="22.56" lengthAdjust="spacingAndGlyphs">AcuI</text>
<polyline points="871.20,470.69 838.45,467.68 834.82,463.28" fill="none" stroke="#b9cfd3" stroke-width="1"/>
<text transform="translate(732.1 339.1) scale(1 1.1)" x="0" y="0" class="ttl">R0010 (pLacI)_AB</text>
<text transform="translate(732.4 357.9) scale(1 1.08)" x="0" y="0" class="bp">2308 bp</text>
</svg>
</body></html>
